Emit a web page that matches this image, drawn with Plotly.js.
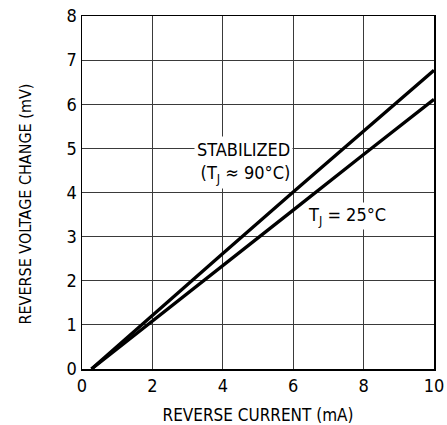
<!DOCTYPE html>
<html>
<head>
<meta charset="utf-8">
<script src="https://cdn.plot.ly/plotly-3.0.1.min.js"></script>
<style>html,body{margin:0;padding:0;background:#fff;}#chart{width:447px;height:425px;}
#chart text{font-stretch:condensed;}</style>
</head>
<body>
<div id="chart"></div>
<script>
const current = [0.27, 2, 4, 6, 8, 10];
const stabilized = [0, 1.22, 2.62, 4.01, 5.40, 6.77];
const tj25 = [0, 1.08, 2.34, 3.60, 4.86, 6.11];
const xTicks = [0, 2, 4, 6, 8, 10];
const yTicks = [0, 1, 2, 3, 4, 5, 6, 7, 8];

const FONT = "'Liberation Sans Narrow', 'DejaVu Sans Condensed', 'Liberation Sans', sans-serif";

const traces = [
  {x: current, y: stabilized, mode: 'lines', line: {color: '#000', width: 3.3}, name: 'Stabilized'},
  {x: current, y: tj25, mode: 'lines', line: {color: '#000', width: 3.3}, name: 'TJ = 25°C'}
];

const layout = {
  width: 447, height: 425,
  margin: {l: 82, r: 13, t: 16, b: 56},
  paper_bgcolor: '#fff', plot_bgcolor: '#fff',
  showlegend: false,
  font: {family: FONT, size: 17, color: '#000'},
  xaxis: {
    range: [0, 10], tickvals: xTicks, ticktext: xTicks.map(String),
    showgrid: true, gridcolor: '#3a3a3a', gridwidth: 1,
    showline: true, linecolor: '#000', linewidth: 1.5, mirror: true,
    zeroline: false, ticks: '', ticklen: 0,
    tickfont: {family: FONT, size: 18, color: '#000'},
    title: {text: 'REVERSE CURRENT (mA)', font: {family: FONT, size: 17, color: '#000'}, standoff: 14}
  },
  yaxis: {
    range: [0, 8], tickvals: yTicks, ticktext: yTicks.map(String),
    showgrid: true, gridcolor: '#3a3a3a', gridwidth: 1,
    showline: true, linecolor: '#000', linewidth: 1.5, mirror: true,
    zeroline: false, ticks: '', ticklen: 0,
    tickfont: {family: FONT, size: 18, color: '#000'}
  },
  annotations: [
    {xref: 'paper', yref: 'paper', x: 0, y: 0.5, xshift: -57, yshift: -12, textangle: -90,
     xanchor: 'center', yanchor: 'middle', showarrow: false,
     text: 'REVERSE VOLTAGE CHANGE (mV)', font: {family: FONT, size: 16, color: '#000'}},
    {x: 4.6, y: 4.68, xref: 'x', yref: 'y', text: 'STABILIZED<br>(T<sub>J</sub> ≈ 90°C)', showarrow: false,
     align: 'right', bgcolor: '#fff', borderpad: 2, font: {family: FONT, size: 18, color: '#000'}},
    {x: 7.52, y: 3.46, xref: 'x', yref: 'y', text: 'T<sub>J</sub> = 25°C', showarrow: false,
     bgcolor: '#fff', borderpad: 1, font: {family: FONT, size: 18, color: '#000'}}
  ]
};

Plotly.newPlot('chart', traces, layout, {displayModeBar: false, staticPlot: true});
</script>
</body>
</html>
